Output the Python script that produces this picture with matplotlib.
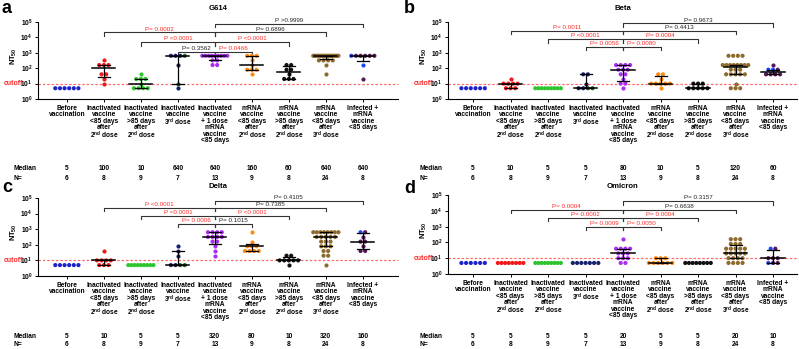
import numpy as np
import matplotlib.pyplot as plt
from matplotlib.ticker import NullLocator
from matplotlib.transforms import blended_transform_factory

plt.rcParams['font.family'] = 'Liberation Sans'
plt.rcParams['mathtext.fontset'] = 'custom'
plt.rcParams['mathtext.rm'] = 'Liberation Sans:bold'
plt.rcParams['mathtext.bf'] = 'Liberation Sans:bold'
plt.rcParams['mathtext.it'] = 'Liberation Sans:bold'

W, H = 799, 349

# ---- data -----------------------------------------------------------------
groups = [
    'Before\nvaccination',
    'Inactivated\nvaccine\n<85 days\nafter\n2$^{nd}$ dose',
    'Inactivated\nvaccine\n>85 days\nafter\n2$^{nd}$ dose',
    'Inactivated\nvaccine\n3$^{rd}$ dose',
    'Inactivated\nvaccine\n+ 1 dose\nmRNA\nvaccine\n<85 days',
    'mRNA\nvaccine\n<85 days\nafter\n2$^{nd}$ dose',
    'mRNA\nvaccine\n>85 days\nafter\n2$^{nd}$ dose',
    'mRNA\nvaccine\n<85 days\nafter\n3$^{rd}$ dose',
    'Infected +\nmRNA\nvaccine\n<85 days',
]
n_counts = [6, 8, 9, 7, 13, 9, 8, 24, 8]
group_colors = ['#1c22c8', '#f01818', '#2ec42e', '#17226e', '#a92ef0',
                '#ff8a14', '#111111', '#8e6a2c', '#561856']
alt_colors = {3: '#1f6e1f', 8: '#1a46ff'}

g614_values = [
    [5] * 6,
    [320, 160, 160, 160, 40, 40, 20, 10],
    [40, 20, 20, 20, 10, 5, 5, 5, 5],
    [640] * 4 + [160, 10, 5],
    [640] * 9 + [320] * 2 + [160] * 2,
    [640] * 3 + [320, 160] + [80] * 3 + [40],
    [160, 160, 80, 80, 40, 20, 20, 20],
    [640] * 18 + [320] * 4 + [160, 40],
    [640] * 6 + [160, 20],
]
beta_values = [
    [5] * 6,
    [20] + [10] * 4 + [5] * 3,
    [5] * 9,
    [40, 40, 10, 5, 5, 5, 5],
    [160] * 4 + [80] * 3 + [40] * 2 + [20] + [10] * 2 + [5],
    [40, 40, 20] + [10] * 5 + [5],
    [10] * 3 + [5] * 5,
    [640] * 4 + [160] * 8 + [80] * 3 + [40] * 5 + [10] + [5] * 3,
    [160] + [80] * 3 + [40] * 4,
]
delta_values = [
    [5] * 6,
    [40] + [10] * 4 + [5] * 3,
    [5] * 9,
    [80, 40, 20, 5, 5, 5, 5],
    [640] * 4 + [320] * 4 + [160] * 2 + [80, 40, 20],
    [640, 160] + [80] * 3 + [40] * 4,
    [20, 20] + [10] * 5 + [5],
    [640] * 8 + [320] * 5 + [160] * 3 + [80] * 3 + [40] * 2 + [20] * 2 + [5],
    [640, 640, 320, 160, 160, 80, 40, 40],
]
omicron_values = [
    [5] * 6,
    [5] * 8,
    [5] * 9,
    [5] * 7,
    [160] + [40] * 4 + [20] * 3 + [10] * 3 + [5] * 2,
    [10] * 3 + [5] * 6,
    [5] * 8,
    [160] * 3 + [80] * 3 + [40] * 5 + [20] * 5 + [10] * 4 + [5] * 4,
    [40, 40] + [10] * 3 + [5] * 3,
]

# values of points drawn in the second colour of a group
g614_alt = {3: [640, 10], 8: [640, 160]}
beta_alt = {3: [5, 5], 8: [80, 80]}
delta_alt = {3: [5, 5], 8: [640]}
omicron_alt = {8: [40, 5]}

g614_median = ['5', '100', '10', '640', '640', '160', '60', '640', '640']
beta_median = ['5', '10', '5', '5', '80', '10', '5', '120', '60']
delta_median = ['5', '10', '5', '5', '320', '80', '10', '320', '160']
omicron_median = ['5', '5', '5', '5', '20', '5', '5', '20', '10']

# comparisons against group 4 (Inactivated + 1 dose mRNA)
compare_to = [1, 2, 3, 5, 6, 7, 8]
g614_p = ['P= 0.0002', 'P <0.0001', 'P= 0.3562', 'P= 0.0466', 'P <0.0001', 'P= 0.6896', 'P >0.9999']
beta_p = ['P= 0.0011', 'P <0.0001', 'P= 0.0056', 'P= 0.0080', 'P= 0.0004', 'P= 0.4413', 'P= 0.9673']
delta_p = ['P <0.0001', 'P <0.0001', 'P= 0.0006', 'P= 0.1015', 'P <0.0001', 'P= 0.7385', 'P= 0.4105']
omicron_p = ['P= 0.0004', 'P= 0.0002', 'P= 0.0009', 'P= 0.0050', 'P= 0.0004', 'P= 0.6638', 'P= 0.3157']

# ---- layout (pixels) ---------------------------------------------------------
panels = [
    dict(letter='a', title='G614', values=g614_values, alt=g614_alt, median=g614_median, p=g614_p,
         box=(38, 22, 398, 99), xlim=(-0.78, 8.95), rows=(169, 178), row_x=13, title_y=8,
         letter_xy=(2, 13), brackets=[4.32, 3.68, 3.04, 3.04, 3.68, 4.32, 4.87]),
    dict(letter='b', title='Beta', values=beta_values, alt=beta_alt, median=beta_median, p=beta_p,
         box=(448, 22, 797, 99), xlim=(-0.67, 8.64), rows=(169, 178), row_x=420, title_y=8,
         letter_xy=(404, 13), brackets=[4.41, 3.88, 3.37, 3.37, 3.88, 4.41, 4.91]),
    dict(letter='c', title='Delta', values=delta_values, alt=delta_alt, median=delta_median, p=delta_p,
         box=(38, 198, 398, 276), xlim=(-0.78, 8.95), rows=(337, 345), row_x=13, title_y=186,
         letter_xy=(2, 192), brackets=[4.37, 3.86, 3.34, 3.34, 3.86, 4.37, 4.81]),
    dict(letter='d', title='Omicron', values=omicron_values, alt=omicron_alt, median=omicron_median, p=omicron_p,
         box=(448, 195, 797, 274), xlim=(-0.67, 8.64), rows=(337, 345), row_x=420, title_y=186,
         letter_xy=(404, 193), brackets=[4.08, 3.55, 3.0, 3.0, 3.55, 4.08, 4.61]),
]

RED = '#ff2b2b'
FS = 4.8


def draw_group(ax, i, vals, color, alt_vals):
    vals = np.asarray(vals)
    for v in np.unique(vals):
        n = int(np.sum(vals == v))
        step = min(0.125, 0.68 / max(n - 1, 1))
        xs = i + (np.arange(n) - (n - 1) / 2) * step
        cols = [color] * n
        k = alt_vals.count(v)
        for j in range(k):
            if i == 8:
                cols[j] = alt_colors[i]
            else:
                cols[n - 1 - j] = alt_colors[i]
        ax.scatter(xs, [v] * n, s=9, c=cols, linewidths=0, zorder=3)
    if vals.min() == vals.max():
        return
    q1, med, q3 = np.percentile(vals, [25, 50, 75], method='weibull')
    ax.plot([i - 0.31, i + 0.31], [med, med], color='k', lw=1.1, zorder=4)
    ax.plot([i, i], [q1, q3], color='k', lw=0.9, zorder=4)
    for q in (q1, q3):
        ax.plot([i - 0.16, i + 0.16], [q, q], color='k', lw=0.9, zorder=4)


def p_color(s):
    if '<' in s:
        return RED
    return RED if float(s.split()[-1].lstrip('<>=')) < 0.05 else '#222222'


fig = plt.figure(figsize=(W / 100, H / 100), dpi=100)

for pn in panels:
    l, t, r, b = pn['box']
    ax = fig.add_axes([l / W, 1 - b / H, (r - l) / W, (b - t) / H])
    ax.set_yscale('log')
    ax.set_ylim(1, 1e5)
    ax.set_xlim(*pn['xlim'])
    for s in ('top', 'right'):
        ax.spines[s].set_visible(False)
    for s in ('left', 'bottom'):
        ax.spines[s].set_linewidth(0.8)
    ax.set_yticks([10 ** k for k in range(6)])
    ax.set_yticklabels([r'$\mathbf{10^{%d}}$' % k for k in range(6)], fontsize=FS)
    ax.yaxis.set_minor_locator(NullLocator())
    ax.tick_params(axis='y', length=2.5, width=0.7, pad=1.5)
    ax.set_xticks(range(9))
    ax.set_xticklabels(groups, fontsize=FS, fontweight='bold', linespacing=0.9, va='top')
    ax.tick_params(axis='x', length=2, width=0.7, pad=2)
    ax.set_ylabel('NT$_{50}$', fontsize=FS + 0.5, fontweight='bold')
    ax.yaxis.set_label_coords(-19 / (r - l), 0.56)

    # cutoff
    ax.axhline(10, color='#ff6b6b', lw=0.9, ls=(0, (2, 1.5)), zorder=1, clip_on=False)
    ax.text(-15 / (r - l), 10, 'cutoff', transform=ax.get_yaxis_transform(),
            ha='right', va='center', fontsize=FS + 0.2, color=RED, fontweight='bold')

    for i, vals in enumerate(pn['values']):
        draw_group(ax, i, vals, group_colors[i], pn['alt'].get(i, []))

    # brackets
    for g, h, lab in zip(compare_to, pn['brackets'], pn['p']):
        y = 10 ** h
        y2 = 10 ** (h - 0.22)
        ax.plot([g, g, 4, 4], [y2, y, y, y2], color='#333333', lw=0.8, clip_on=False, zorder=2)
        ax.annotate(lab, ((g + 4) / 2, y), xytext=(0, 0.6), textcoords='offset points',
                    ha='center', va='bottom', fontsize=FS - 0.3, color=p_color(lab),
                    annotation_clip=False)

    # median and N rows
    tr = blended_transform_factory(ax.transData, fig.transFigure)
    y_med, y_n = pn['rows']
    fig.text(pn['row_x'] / W, 1 - y_med / H, 'Median', fontsize=FS, fontweight='bold', va='center')
    fig.text(pn['row_x'] / W, 1 - y_n / H, 'N=', fontsize=FS, fontweight='bold', va='center')
    for i in range(9):
        ax.text(i, 1 - y_med / H, pn['median'][i], transform=tr, ha='center', va='center',
                fontsize=FS, fontweight='bold')
        ax.text(i, 1 - y_n / H, str(n_counts[i]), transform=tr, ha='center', va='center',
                fontsize=FS, fontweight='bold')

    fig.text((l + r) / 2 / W, 1 - pn['title_y'] / H, pn['title'], ha='center', va='center',
             fontsize=FS + 0.8, fontweight='bold')
    lx, ly = pn['letter_xy']
    fig.text(lx / W, 1 - ly / H, pn['letter'], ha='left', va='baseline', fontsize=13, fontweight='bold')

fig.savefig('out.png', dpi=100)
